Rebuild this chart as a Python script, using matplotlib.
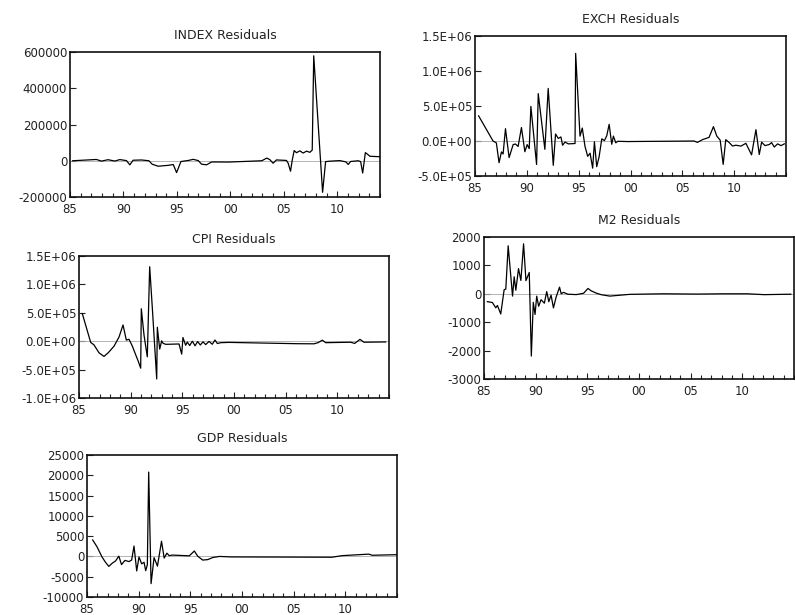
# ---------- IMPORT ------------
import matplotlib
matplotlib.use("Agg")
import matplotlib.pyplot as plt
from matplotlib.ticker import MultipleLocator
# ------------------------------


# ---------- DATA --------------
# residuals (quarterly, decimal years)
index_years = [1985.25, 1987.47, 1987.94, 1988.56, 1989.19, 1989.66, 1990.28, 1990.6, 1990.9, 1991.69,
               1992.38, 1992.69, 1993.25, 1994.19, 1994.66, 1994.97, 1995.38, 1996.06, 1996.53, 1997.0,
               1997.31, 1997.78, 1998.25, 1999.81, 2001.69, 2002.94, 2003.41, 2003.69, 2004.0, 2004.31,
               2005.25, 2005.41, 2005.63, 2005.78, 2005.97, 2006.19, 2006.5, 2006.81, 2007.13, 2007.44,
               2007.66, 2007.8, 2008.63, 2008.91, 2009.31, 2010.25, 2010.81, 2011.03, 2011.25, 2011.97,
               2012.19, 2012.38, 2012.63, 2012.81, 2013.06, 2013.94]
index_values = [0, 7000, -2000, 5700, -1700, 6400, 800, -22600, 2800, 4300,
                0, -19200, -30200, -25300, -20900, -65300, -4200, 1500, 7700, 750,
                -19000, -22300, -6600, -7200, -3000, 0, 14700, 6200, -13600, 4500,
                1700, -13800, -57700, 0, 56200, 44300, 54700, 42600, 53000, 46400,
                59000, 579000, -174000, -4900, -2300, 750, -6400, -20400, -4000, 0,
                -4700, -67500, 44900, 36800, 24700, 22300]

exch_years = [1985.35, 1986.74, 1987.06, 1987.32, 1987.55, 1987.71, 1987.94, 1988.29, 1988.68, 1988.9,
              1989.16, 1989.48, 1989.81, 1990.03, 1990.23, 1990.39, 1990.94, 1991.1, 1991.74, 1992.06,
              1992.55, 1992.77, 1993.03, 1993.29, 1993.45, 1993.68, 1994.0, 1994.65, 1994.71, 1995.13,
              1995.35, 1995.61, 1995.87, 1996.1, 1996.35, 1996.52, 1996.74, 1996.97, 1997.23, 1997.48,
              1997.71, 1997.94, 1998.19, 1998.35, 1998.58, 1998.77, 1999.7, 2002.0, 2004.0, 2006.13,
              2006.45, 2006.94, 2007.58, 2008.0, 2008.32, 2008.65, 2008.94, 2009.19, 2009.52, 2009.84,
              2010.16, 2010.65, 2011.13, 2011.68, 2012.1, 2012.42, 2012.65, 2012.97, 2013.39, 2013.61,
              2013.87, 2014.19, 2014.52, 2014.84]
exch_values = [359000, 0, -27000, -310000, -156000, -185000, 176000, -237000, -51000, -43000,
               -78000, 193000, -153000, -51000, -109000, 494000, -335000, 677000, -119000, 751000,
               -347000, 100000, 37000, 58000, -61000, -15000, -41000, -36000, 1251000, 69000,
               185000, -76000, -219000, -174000, -388000, -11000, -367000, -227000, 31000, 5000,
               75000, 238000, -47000, 70000, -26000, -4000, -8000, -5000, -3000, 0,
               -20000, 19000, 52000, 205000, 72000, 12000, -334000, 19000, -22000, -72000,
               -60000, -73000, -33000, -198000, 162000, -193000, -16000, -66000, -50000, -23000,
               -86000, -41000, -66000, -41000]

cpi_years = [1985.32, 1986.13, 1986.45, 1986.94, 1987.42, 1987.84, 1988.39, 1988.87, 1989.26, 1989.58,
             1989.84, 1990.16, 1990.48, 1990.74, 1990.97, 1991.03, 1991.29, 1991.61, 1991.84, 1992.1,
             1992.52, 1992.58, 1992.81, 1993.0, 1993.13, 1993.39, 1994.68, 1994.94, 1995.06, 1995.32,
             1995.48, 1995.71, 1995.97, 1996.23, 1996.48, 1996.74, 1997.0, 1997.26, 1997.58, 1997.9,
             1998.16, 1998.39, 1998.71, 1999.52, 2002.9, 2006.13, 2007.74, 2008.13, 2008.55, 2008.87,
             2011.29, 2011.68, 2012.19, 2012.58, 2014.68]
cpi_values = [486000, -21000, -65000, -205000, -268000, -201000, -88000, 72000, 286000, 19000,
              34000, -86000, -236000, -356000, -475000, 571000, 110000, -275000, 1311000, 573000,
              -665000, 246000, -139000, 6000, -36000, -55000, -49000, -228000, 65000, -72000,
              -15000, -76000, 0, -81000, -6000, -67000, -11000, -60000, -4000, -54000,
              21000, -41000, -26000, -21000, -33000, -44000, -46000, -26000, 18000, -26000,
              -18000, -39000, 32000, -18000, -13000]

m2_years = [1985.32, 1985.81, 1986.14, 1986.3, 1986.62, 1986.95, 1987.11, 1987.34, 1987.76, 1987.92,
            1988.08, 1988.34, 1988.57, 1988.83, 1989.06, 1989.38, 1989.58, 1989.77, 1989.94, 1990.1,
            1990.29, 1990.52, 1990.84, 1991.07, 1991.27, 1991.49, 1991.72, 1991.98, 1992.31, 1992.47,
            1992.69, 1993.12, 1993.93, 1994.64, 1995.06, 1995.39, 1995.88, 1996.36, 1997.18, 1999.12,
            2002.37, 2005.6, 2008.2, 2010.5, 2012.1, 2014.7]
m2_values = [-276, -307, -492, -411, -709, 145, 165, 1690, -81, 599,
             126, 886, 470, 1760, 463, 751, -2192, -301, -728, -84,
             -440, -208, -330, 78, -279, -47, -497, -114, 234, 0,
             51, -15, -28, 19, 188, 101, 22, -33, -81, -19,
             0, -10, 0, 0, -30, -14]

gdp_years = [1985.55, 1985.97, 1986.46, 1986.79, 1987.11, 1987.44, 1987.76, 1988.08, 1988.34, 1988.67,
             1989.06, 1989.32, 1989.55, 1989.81, 1990.03, 1990.29, 1990.52, 1990.68, 1990.84, 1990.97,
             1991.2, 1991.49, 1991.82, 1992.21, 1992.47, 1992.73, 1992.95, 1993.28, 1994.9, 1995.39,
             1995.71, 1996.2, 1996.69, 1997.18, 1997.82, 1998.96, 2003.83, 2008.7, 2009.68, 2012.27,
             2012.6, 2015.0]
gdp_values = [4059, 2368, -165, -1436, -2459, -1675, -1130, 74, -2021, -982,
              -1271, -891, 2558, -3581, -140, -1815, -1436, -3515, -2046, 20790,
              -6707, -300, -2400, 3746, -404, 800, 198, 330, 149, 1337,
              66, -899, -784, -264, 0, -124, -157, -198, 190, 569,
              289, 429]

year_ticks = [1985, 1990, 1995, 2000, 2005, 2010]
year_labels = ["85", "90", "95", "00", "05", "10"]

index_yticks = [-200000, 0, 200000, 400000, 600000]
index_ylabels = ["-200000", "0", "200000", "400000", "600000"]
exch_yticks = [-500000, 0, 500000, 1000000, 1500000]
exch_ylabels = ["-5.0E+05", "0.0E+00", "5.0E+05", "1.0E+06", "1.5E+06"]
cpi_yticks = [-1000000, -500000, 0, 500000, 1000000, 1500000]
cpi_ylabels = ["-1.0E+06", "-5.0E+05", "0.0E+00", "5.0E+05", "1.0E+06", "1.5E+06"]
m2_yticks = [-3000, -2000, -1000, 0, 1000, 2000]
m2_ylabels = ["-3000", "-2000", "-1000", "0", "1000", "2000"]
gdp_yticks = [-10000, -5000, 0, 5000, 10000, 15000, 20000, 25000]
gdp_ylabels = ["-10000", "-5000", "0", "5000", "10000", "15000", "20000", "25000"]
# ------------------------------


# ---------- CONFIG ------------
plt.rcParams["font.family"] = "DejaVu Sans"
W, H = 795.0, 615.0
# ------------------------------


def rect(left, top, right, bottom):
    # pixel box -> figure fraction
    return [left / W, 1 - bottom / H, (right - left) / W, (bottom - top) / H]


def residual_panel(fig, box, title, years, values, yticks, ylabels, xend):
    ax = fig.add_axes(box)
    ax.axhline(0, color="#a8a8a8", linewidth=0.6, zorder=2)
    ax.plot(years, values, color="black", linewidth=0.9, zorder=3)
    ax.set_xlim(1985, xend)
    ax.set_ylim(yticks[0], yticks[-1])
    ax.set_xticks(year_ticks)
    ax.set_xticklabels(year_labels)
    ax.xaxis.set_minor_locator(MultipleLocator(1))
    ax.set_yticks(yticks)
    ax.set_yticklabels(ylabels)
    ax.tick_params(which="both", direction="in", labelsize=8.5, width=0.8, colors="#222222")
    ax.tick_params(which="major", length=4, pad=2)
    ax.tick_params(which="minor", length=3)
    ax.tick_params(axis="x", pad=4)
    for s in ax.spines.values():
        s.set_linewidth(1.2)
        s.set_color("#111111")
    ax.set_title(title, fontsize=9, pad=9.5, color="#222222")
    return ax


fig = plt.figure(figsize=(7.95, 6.15), dpi=100)

residual_panel(fig, rect(70, 52, 380, 197), "INDEX Residuals", index_years, index_values,
               index_yticks, index_ylabels, 2014)
residual_panel(fig, rect(475, 36, 786, 176), "EXCH Residuals", exch_years, exch_values,
               exch_yticks, exch_ylabels, 2015)
residual_panel(fig, rect(79, 256, 389, 398), "CPI Residuals", cpi_years, cpi_values,
               cpi_yticks, cpi_ylabels, 2015)
residual_panel(fig, rect(484, 237, 794, 379), "M2 Residuals", m2_years, m2_values,
               m2_yticks, m2_ylabels, 2015)
residual_panel(fig, rect(87, 455, 397, 597), "GDP Residuals", gdp_years, gdp_values,
               gdp_yticks, gdp_ylabels, 2015)

fig.savefig("out.png", dpi=100)
